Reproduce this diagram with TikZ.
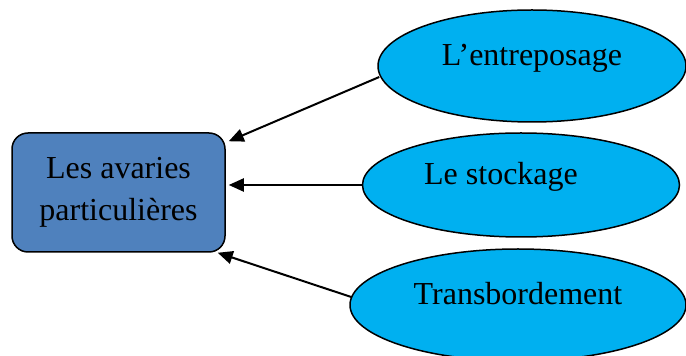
\documentclass[tikz,border=0pt]{standalone}
\usepackage{fontspec}
\setmainfont{Liberation Serif}
\usetikzlibrary{shapes.geometric,arrows.meta}
\definecolor{boxblue}{HTML}{4F81BD}
\definecolor{ellcyan}{HTML}{00B0F0}
\tikzset{
  mainbox/.style={draw=black,line width=1.5pt,fill=boxblue,rounded corners=16pt,
    minimum width=213pt,minimum height=119pt,inner sep=0pt,align=center,
    font=\fontsize{32}{42}\selectfont},
  ell/.style={draw=black,line width=1.5pt,fill=ellcyan,ellipse,inner sep=0pt,
    text height=0pt,text depth=0pt,font=\fontsize{32}{42}\selectfont},
  arr/.style={line width=2pt,-{Triangle[length=15pt,width=13pt]}}
}
\begin{document}
\begin{tikzpicture}[x=1pt,y=1pt]
\useasboundingbox (0,0) rectangle (686,356);
\node[mainbox] (box) at (118.5,163.5) {Les avaries\\particulières};
\node[ell,minimum width=308pt,minimum height=112pt] (e1) at (532,290) {L’entreposage};
\node[ell,minimum width=317pt,minimum height=104pt] (e2) at (521,171) {Le stockage\hspace*{40pt}};
\node[ell,minimum width=336pt,minimum height=112pt] (e3) at (518,51) {Transbordement};
\draw[arr] (e1.west) ++(2,-11) coordinate (s1) -- ([shift={(3pt,-9pt)}]box.north east) coordinate (t1);
\draw[arr] (e2.west) -- ([shift={(3pt,7.5pt)}]box.east) coordinate (t2);
\draw[arr] (e3.west) ++(2,8) coordinate (s3) -- ([shift={(-8pt,0pt)}]box.south east) coordinate (t3);
\end{tikzpicture}
\end{document}
